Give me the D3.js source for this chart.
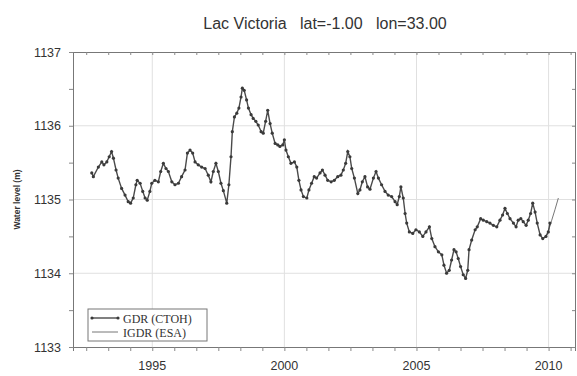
<!DOCTYPE html>
<html>
<head>
<meta charset="utf-8">
<script src="https://cdn.jsdelivr.net/npm/d3@7"></script>
<style>
  body { margin: 0; background: #fff; }
  svg { display: block; }
</style>
</head>
<body>
<div id="chart"></div>
<script>
// GDR (CTOH) series : decimal year / water level (m)
const gdrYears = [
  1992.71, 1992.77, 1992.96, 1993.09, 1993.17, 1993.28, 1993.37, 1993.46, 1993.53, 1993.63,
  1993.71, 1993.84, 1993.97, 1994.09, 1994.18, 1994.28, 1994.38, 1994.43, 1994.54, 1994.64,
  1994.73, 1994.81, 1994.91, 1994.98, 1995.10, 1995.23, 1995.32, 1995.42, 1995.52, 1995.61,
  1995.74, 1995.86, 1995.99, 1996.11, 1996.24, 1996.33, 1996.43, 1996.53, 1996.62, 1996.74,
  1996.87, 1997.00, 1997.12, 1997.22, 1997.31, 1997.41, 1997.50, 1997.60, 1997.69, 1997.82,
  1997.90, 1997.98, 1998.03, 1998.11, 1998.20, 1998.28, 1998.36, 1998.41, 1998.48, 1998.57,
  1998.64, 1998.74, 1998.82, 1998.92, 1999.01, 1999.12, 1999.20, 1999.29, 1999.37, 1999.46,
  1999.54, 1999.65, 1999.75, 1999.83, 1999.94, 2000.00, 2000.06, 2000.15, 2000.25, 2000.38,
  2000.47, 2000.55, 2000.63, 2000.72, 2000.85, 2000.93, 2001.03, 2001.13, 2001.22, 2001.35,
  2001.44, 2001.54, 2001.64, 2001.77, 2001.89, 2002.02, 2002.14, 2002.23, 2002.32, 2002.40,
  2002.48, 2002.55, 2002.65, 2002.78, 2002.86, 2002.95, 2003.05, 2003.15, 2003.24, 2003.37,
  2003.47, 2003.56, 2003.68, 2003.81, 2003.93, 2004.06, 2004.19, 2004.27, 2004.35, 2004.41,
  2004.50, 2004.57, 2004.63, 2004.73, 2004.86, 2004.98, 2005.11, 2005.24, 2005.36, 2005.49,
  2005.58, 2005.70, 2005.83, 2005.96, 2006.04, 2006.14, 2006.24, 2006.33, 2006.42, 2006.50,
  2006.58, 2006.67, 2006.77, 2006.86, 2006.94, 2006.99, 2007.09, 2007.22, 2007.30, 2007.43,
  2007.53, 2007.66, 2007.78, 2007.91, 2008.04, 2008.16, 2008.26, 2008.35, 2008.44, 2008.54,
  2008.67, 2008.77, 2008.85, 2008.95, 2009.04, 2009.15, 2009.23, 2009.32, 2009.40, 2009.49,
  2009.57, 2009.68, 2009.78, 2009.90, 2009.99, 2010.05
];
const gdrLevels = [
  1135.36, 1135.31, 1135.44, 1135.51, 1135.47, 1135.51, 1135.58, 1135.65, 1135.56, 1135.40,
  1135.29, 1135.15, 1135.06, 1134.97, 1134.95, 1135.02, 1135.20, 1135.26, 1135.22, 1135.11,
  1135.02, 1134.99, 1135.11, 1135.22, 1135.26, 1135.24, 1135.38, 1135.49, 1135.42, 1135.38,
  1135.24, 1135.20, 1135.22, 1135.31, 1135.40, 1135.63, 1135.67, 1135.63, 1135.51, 1135.47,
  1135.44, 1135.42, 1135.33, 1135.24, 1135.38, 1135.49, 1135.38, 1135.22, 1135.12, 1134.95,
  1135.20, 1135.58, 1135.92, 1136.12, 1136.17, 1136.24, 1136.39, 1136.51, 1136.48, 1136.35,
  1136.24, 1136.15, 1136.10, 1136.06, 1136.01, 1135.92, 1135.90, 1136.06, 1136.21, 1136.03,
  1135.90, 1135.76, 1135.74, 1135.72, 1135.74, 1135.81, 1135.67, 1135.58, 1135.49, 1135.51,
  1135.44, 1135.26, 1135.13, 1135.04, 1135.02, 1135.13, 1135.22, 1135.31, 1135.29, 1135.36,
  1135.40, 1135.33, 1135.26, 1135.24, 1135.26, 1135.31, 1135.33, 1135.40, 1135.49, 1135.65,
  1135.58, 1135.42, 1135.29, 1135.08, 1135.13, 1135.24, 1135.31, 1135.17, 1135.14, 1135.29,
  1135.38, 1135.29, 1135.20, 1135.11, 1135.06, 1135.04, 1134.97, 1134.93, 1135.04, 1135.17,
  1135.02, 1134.81, 1134.68, 1134.56, 1134.54, 1134.59, 1134.56, 1134.50, 1134.56, 1134.63,
  1134.47, 1134.36, 1134.29, 1134.25, 1134.11, 1134.00, 1134.04, 1134.18, 1134.32, 1134.29,
  1134.20, 1134.09, 1133.98, 1133.93, 1134.04, 1134.32, 1134.45, 1134.59, 1134.63, 1134.74,
  1134.72, 1134.70, 1134.68, 1134.65, 1134.63, 1134.72, 1134.79, 1134.88, 1134.81, 1134.74,
  1134.68, 1134.63, 1134.72, 1134.74, 1134.70, 1134.65, 1134.72, 1134.81, 1134.95, 1134.83,
  1134.68, 1134.52, 1134.47, 1134.50, 1134.56, 1134.68
];

// IGDR (ESA) series
const igdrYears = [2009.88, 2010.00, 2010.12, 2010.24, 2010.37];
const igdrLevels = [1134.48, 1134.58, 1134.72, 1134.86, 1135.02];

const xTickLabels = [1995, 2000, 2005, 2010];
const yTickLabels = [1133, 1134, 1135, 1136, 1137];
const seriesNames = ["GDR (CTOH)", "IGDR (ESA)"];
const titleText = "Lac Victoria   lat=-1.00   lon=33.00";
const yAxisTitle = "Water level (m)";

const width = 577, height = 376;
const margin = { top: 52, right: 2, bottom: 29, left: 73 };

const svg = d3.select("#chart")
  .append("svg")
  .attr("width", width)
  .attr("height", height);

const x = d3.scaleLinear()
  .domain([1992, 2011])
  .range([margin.left, width - margin.right]);

const y = d3.scaleLinear()
  .domain([1133, 1137])
  .range([height - margin.bottom, margin.top]);

// grid
svg.append("g")
  .selectAll("line.hgrid")
  .data(yTickLabels.slice(1, -1))
  .join("line")
  .attr("x1", x(1992)).attr("x2", x(2011))
  .attr("y1", d => y(d)).attr("y2", d => y(d))
  .attr("stroke", "#e0e0e0").attr("stroke-width", 1);

svg.append("g")
  .selectAll("line.vgrid")
  .data(xTickLabels)
  .join("line")
  .attr("x1", d => x(d)).attr("x2", d => x(d))
  .attr("y1", y(1133)).attr("y2", y(1137))
  .attr("stroke", "#e0e0e0").attr("stroke-width", 1);

// minor ticks on x every 10 months, y every half metre
const xMinor = d3.range(1992.5, 2011, 5 / 6);
const yMinor = d3.range(1133, 1137.01, 0.5);

const bottomAxis = d3.axisBottom(x).tickValues(xMinor).tickSize(4).tickFormat("");
const topAxis = d3.axisTop(x).tickValues(xMinor).tickSize(-3).tickFormat("");
const leftAxis = d3.axisLeft(y).tickValues(yMinor).tickSize(4).tickFormat("");
const rightAxis = d3.axisRight(y).tickValues(yMinor).tickSize(-3).tickFormat("");

svg.append("g").attr("transform", `translate(0,${y(1133)})`).call(bottomAxis);
svg.append("g").attr("transform", `translate(0,${y(1137)})`).call(topAxis);
svg.append("g").attr("transform", `translate(${x(1992)},0)`).call(leftAxis);
svg.append("g").attr("transform", `translate(${x(2011)},0)`).call(rightAxis);

svg.selectAll(".domain").attr("stroke", "#777");
svg.selectAll(".tick line").attr("stroke", "#888");

// tick labels
svg.append("g")
  .selectAll("text")
  .data(xTickLabels)
  .join("text")
  .attr("x", d => x(d))
  .attr("y", 369.5)
  .attr("text-anchor", "middle")
  .attr("font-family", "Liberation Sans, Arial, sans-serif")
  .attr("font-size", 12.5)
  .attr("fill", "#333")
  .text(d => d);

svg.append("g")
  .selectAll("text")
  .data(yTickLabels)
  .join("text")
  .attr("x", 61)
  .attr("y", d => y(d) + 4.5)
  .attr("text-anchor", "end")
  .attr("font-family", "Liberation Sans, Arial, sans-serif")
  .attr("font-size", 12.5)
  .attr("fill", "#333")
  .text(d => d);

// title + axis title
svg.append("text")
  .attr("x", 325)
  .attr("y", 29)
  .attr("text-anchor", "middle")
  .attr("font-family", "Liberation Sans, Arial, sans-serif")
  .attr("font-size", 16)
  .attr("fill", "#333")
  .style("white-space", "pre")
  .text(titleText);

svg.append("text")
  .attr("transform", `translate(20,${(y(1133) + y(1137)) / 2}) rotate(-90)`)
  .attr("text-anchor", "middle")
  .attr("font-family", "Liberation Sans, Arial, sans-serif")
  .attr("font-size", 8.5)
  .attr("font-weight", "bold")
  .attr("fill", "#333")
  .text(yAxisTitle);

// series
const gdr = gdrYears.map((d, i) => ({ year: d, level: gdrLevels[i] }));
const igdr = igdrYears.map((d, i) => ({ year: d, level: igdrLevels[i] }));

const line = d3.line()
  .x(d => x(d.year))
  .y(d => y(d.level));

svg.append("path")
  .datum(igdr)
  .attr("d", line)
  .attr("fill", "none")
  .attr("stroke", "#777")
  .attr("stroke-width", 1);

svg.append("path")
  .datum(gdr)
  .attr("d", line)
  .attr("fill", "none")
  .attr("stroke", "#4a4a4a")
  .attr("stroke-width", 1.4);

svg.append("g")
  .selectAll("circle")
  .data(gdr)
  .join("circle")
  .attr("cx", d => x(d.year))
  .attr("cy", d => y(d.level))
  .attr("r", 1.6)
  .attr("fill", "#3a3a3a");

// legend
const legend = svg.append("g").attr("transform", "translate(88,309)");
legend.append("rect")
  .attr("width", 119).attr("height", 32)
  .attr("fill", "#fff").attr("stroke", "#777");

const rows = legend.selectAll("g.row")
  .data(seriesNames)
  .join("g")
  .attr("class", "row")
  .attr("transform", (d, i) => `translate(0,${9 + i * 14})`);

rows.append("line")
  .attr("x1", 4).attr("x2", 30)
  .attr("stroke", (d, i) => i === 0 ? "#4a4a4a" : "#777")
  .attr("stroke-width", (d, i) => i === 0 ? 1.4 : 1);

rows.filter((d, i) => i === 0)
  .selectAll("circle")
  .data([4, 30])
  .join("circle")
  .attr("cx", d => d).attr("cy", 0).attr("r", 1.6)
  .attr("fill", "#3a3a3a");

rows.append("text")
  .attr("x", 35)
  .attr("y", 4.5)
  .attr("font-family", "Liberation Serif, Times New Roman, serif")
  .attr("font-size", 12)
  .attr("fill", "#333")
  .text(d => d);
</script>
</body>
</html>
